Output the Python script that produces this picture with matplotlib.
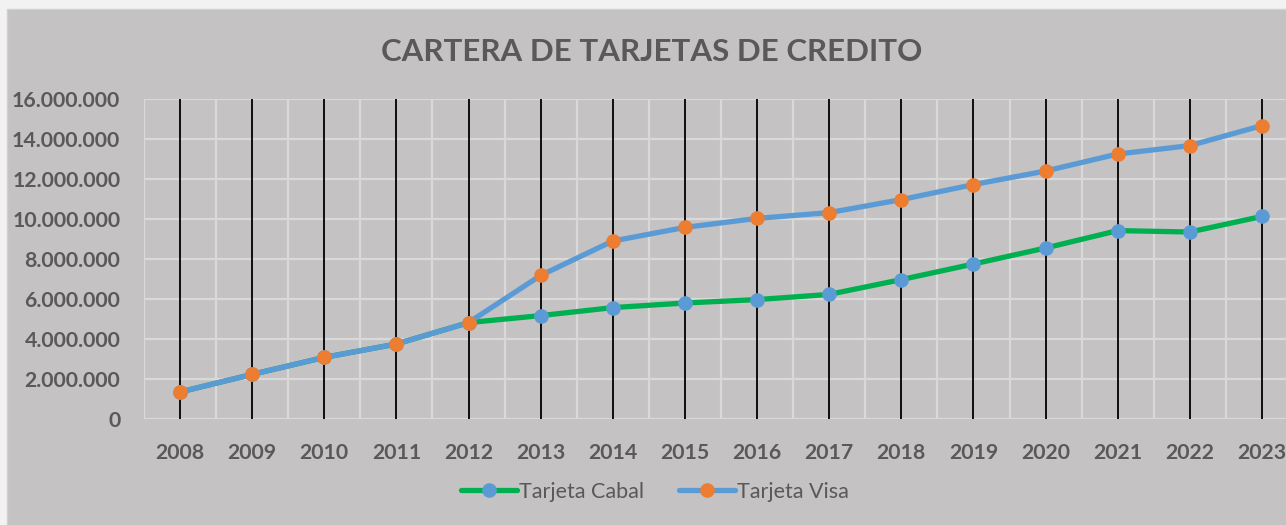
import matplotlib
matplotlib.use('Agg')
import matplotlib.pyplot as plt
from matplotlib.patches import Rectangle
from matplotlib.ticker import FuncFormatter, MultipleLocator

# ── Data ─────────────────────────────────────────────────────────
years = ['2008', '2009', '2010', '2011', '2012', '2013', '2014', '2015',
         '2016', '2017', '2018', '2019', '2020', '2021', '2022', '2023']
cabal = [1350000, 2230000, 3080000, 3750000, 4820000, 5170000, 5570000, 5800000,
         5970000, 6230000, 6970000, 7750000, 8550000, 9420000, 9350000, 10130000]
visa  = [1350000, 2230000, 3080000, 3750000, 4820000, 7180000, 8900000, 9580000,
         10030000, 10320000, 10970000, 11720000, 12400000, 13250000, 13670000, 14670000]

BG     = '#C4C2C2'
TXT    = '#595959'
GRID   = '#D9D9D9'
GREEN  = '#00B050'
BLUE   = '#5B9BD5'
ORANGE = '#ED7D31'

plt.rcParams['font.family'] = ['Lato', 'DejaVu Sans']

W, H = 1286, 525
fig = plt.figure(figsize=(W / 100, H / 100), dpi=100, facecolor='#F2F2F2')
# chart area (border on the left/top, runs off the image on the right/bottom)
fig.patches.append(Rectangle((7 / W, -0.05), 1.0, (H - 9) / H + 0.05, transform=fig.transFigure,
                             facecolor=BG, edgecolor='#D0D0D0', lw=1, zorder=-5))

x = list(range(len(years)))
step = (1262 - 180) / 15
left = 180 - step / 2
ax = fig.add_axes([left / W, (H - 419) / H, step * 16 / W, 320 / H])
ax.set_facecolor(BG)

# grid: light lines between categories, black lines on categories
for b in range(len(years) + 1):
    ax.axvline(b - 0.5, color=GRID, lw=1.6, zorder=1)
ax.yaxis.set_major_locator(MultipleLocator(2000000))
ax.grid(axis='y', color=GRID, lw=1.6, zorder=1)
for xi in x:
    ax.axvline(xi, color='black', lw=1.3, zorder=2)

ax.plot(x, cabal, color=GREEN, lw=3.8, marker='o', ms=9.5,
        mfc=BLUE, mec=BLUE, label='Tarjeta Cabal', zorder=3, solid_capstyle='round')
ax.plot(x, visa, color=BLUE, lw=3.8, marker='o', ms=9.5,
        mfc=ORANGE, mec=ORANGE, label='Tarjeta Visa', zorder=4, solid_capstyle='round')

ax.set_xlim(-0.5, len(years) - 0.5)
ax.set_ylim(0, 16000000)
ax.set_xticks(x)
ax.set_xticklabels(years)
ax.yaxis.set_major_formatter(FuncFormatter(lambda v, p: f'{int(v):,}'.replace(',', '.')))
for s in ax.spines.values():
    s.set_visible(False)
ax.tick_params(length=0, colors=TXT, labelsize=15.3)
ax.tick_params(axis='y', pad=17)
ax.tick_params(axis='x', pad=17)
for lab in ax.get_xticklabels() + ax.get_yticklabels():
    lab.set_fontweight('bold')

fig.text(652 / W, 1 - 52 / H, 'CARTERA DE TARJETAS DE CREDITO', ha='center', va='center',
         fontsize=22.5, fontweight='bold', color=TXT)

leg = fig.legend(loc='center', bbox_to_anchor=(655 / W, 1 - 492 / H), ncol=2,
                 frameon=False, fontsize=15.5, handlelength=2.6, handletextpad=0.1,
                 columnspacing=1.6)
for t in leg.get_texts():
    t.set_color(TXT)

fig.savefig('out.png', dpi=100, facecolor=fig.get_facecolor())
